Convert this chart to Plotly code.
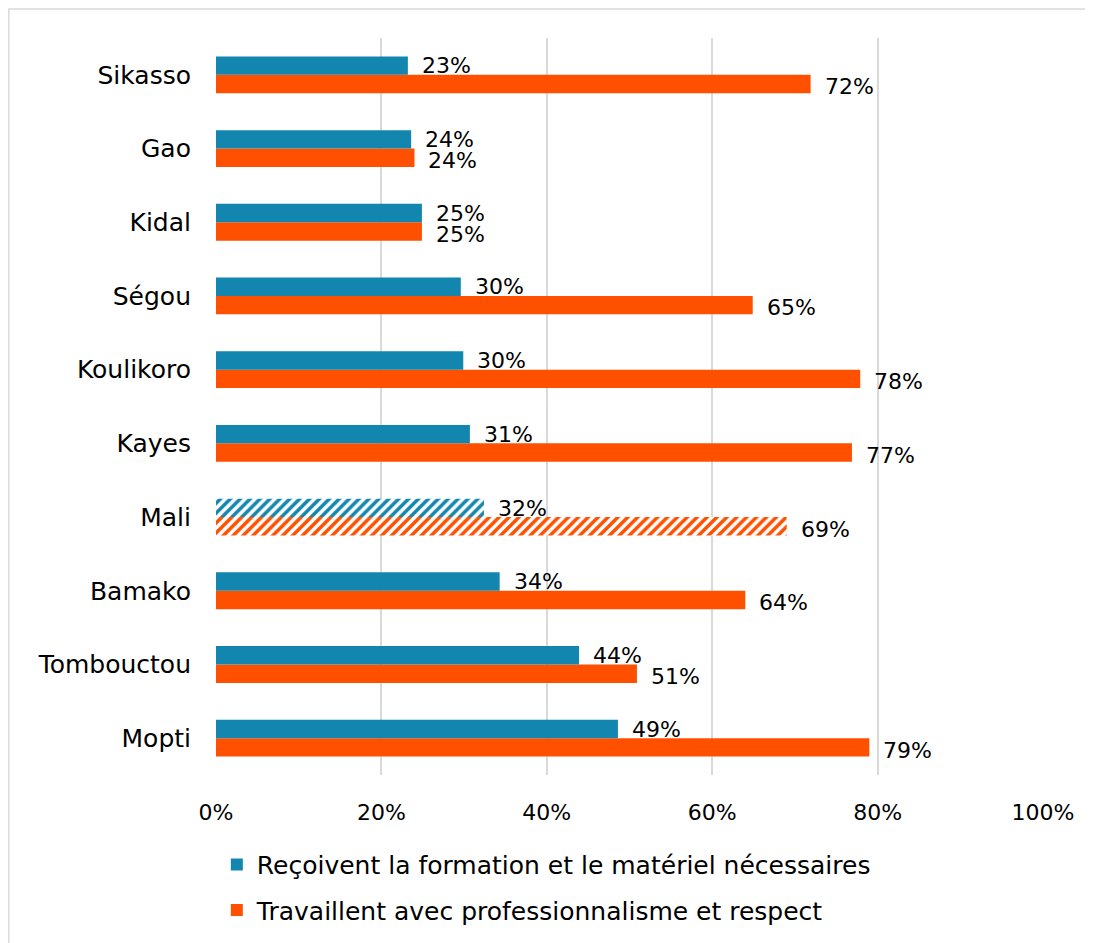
import plotly.graph_objects as go

categories = ["Mopti", "Tombouctou", "Bamako", "Mali", "Kayes", "Koulikoro",
              "Ségou", "Kidal", "Gao", "Sikasso"]
formation = [49, 44, 34, 32, 31, 30, 30, 25, 24, 23]
formation_exact = [48.6, 43.9, 34.3, 32.4, 30.7, 29.9, 29.6, 24.9, 23.6, 23.2]
respect = [79, 51, 64, 69, 77, 78, 65, 25, 24, 72]
respect_exact = [79.0, 50.9, 64.0, 69.0, 76.9, 77.9, 64.9, 24.9, 24.0, 71.9]
series_names = ["Reçoivent la formation et le matériel nécessaires",
                "Travaillent avec professionnalisme et respect"]
tick_vals = [0, 20, 40, 60, 80, 100]
tick_text = ["0%", "20%", "40%", "60%", "80%", "100%"]
highlight = "Mali"

TEAL = "#1286ae"
ORANGE = "#ff5000"
FONT = "DejaVu Sans"
FS_NUM = 22
FS_TXT = 25

shapes_pat = ["/" if c == highlight else "" for c in categories]

fig = go.Figure()
fig.add_trace(go.Bar(
    y=categories, x=respect_exact, orientation="h", name=series_names[1],
    marker=dict(color=ORANGE, line=dict(width=0),
                pattern=dict(shape=shapes_pat, fgcolor=ORANGE, bgcolor="white",
                             size=7, solidity=0.5, fillmode="replace")),
    legendgroup="b", legendrank=2, hoverinfo="skip"))
fig.add_trace(go.Bar(
    y=categories, x=formation_exact, orientation="h", name=series_names[0],
    marker=dict(color=TEAL, line=dict(width=0),
                pattern=dict(shape=shapes_pat, fgcolor=TEAL, bgcolor="white",
                             size=7, solidity=0.5, fillmode="replace")),
    legendgroup="a", legendrank=1, hoverinfo="skip"))

annotations = []
for c, v, ve in zip(categories, formation, formation_exact):
    annotations.append(dict(x=ve, y=c, text=f"{v}%", showarrow=False, xanchor="left",
                            xshift=12, yshift=9, font=dict(family=FONT, size=FS_NUM, color="#000")))
for c, v, ve in zip(categories, respect, respect_exact):
    annotations.append(dict(x=ve, y=c, text=f"{v}%", showarrow=False, xanchor="left",
                            xshift=12, yshift=-12, font=dict(family=FONT, size=FS_NUM, color="#000")))

fig.update_layout(
    width=1093, height=943,
    margin=dict(l=208, r=58, t=30, b=176),
    paper_bgcolor="white", plot_bgcolor="white",
    barmode="group", bargap=0.5, bargroupgap=0,
    font=dict(family=FONT, size=FS_TXT, color="#000"),
    annotations=annotations,
    showlegend=True,
    legend=dict(x=0.001, y=-0.0905, xanchor="left", yanchor="top",
                traceorder="grouped", tracegroupgap=10,
                font=dict(family=FONT, size=FS_TXT, color="#000"),
                itemsizing="constant", bgcolor="rgba(0,0,0,0)"),
    shapes=[dict(type="rect", xref="paper", yref="paper",
                 x0=-0.2505, x1=1.2, y0=-0.4, y1=1.0395,
                 line=dict(color="#d9d9d9", width=1.5), fillcolor="rgba(0,0,0,0)",
                 layer="below")],
)
fig.update_xaxes(range=[0, 100], tickvals=tick_vals, ticktext=tick_text,
                 showgrid=True, gridcolor="#d9d9d9", gridwidth=1.5,
                 zeroline=False, showline=False, ticks="", ticklabelstandoff=22,
                 tickfont=dict(family=FONT, size=FS_NUM, color="#000"), fixedrange=True)
fig.update_yaxes(type="category", categoryorder="array", categoryarray=categories,
                 showgrid=False, zeroline=False, showline=False, ticks="",
                 ticklabelstandoff=24,
                 tickfont=dict(family=FONT, size=FS_TXT, color="#000"), fixedrange=True)

fig.write_html("out.html")
